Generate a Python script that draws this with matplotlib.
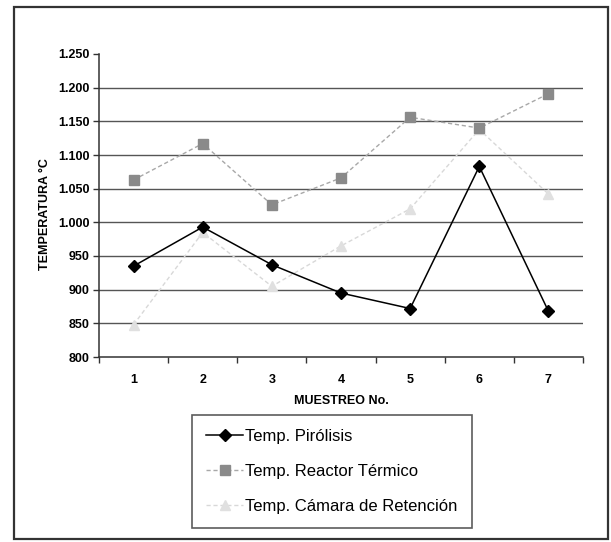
import numpy as np
import matplotlib
matplotlib.use("Agg")
import matplotlib.pyplot as plt
from matplotlib.patches import Rectangle
from matplotlib.ticker import FuncFormatter, FixedLocator

plt.rcParams['font.family'] = ['Liberation Sans', 'DejaVu Sans']

muestreo = [1, 2, 3, 4, 5, 6, 7]
pirolisis = [935, 993, 937, 895, 872, 1083, 868]
reactor = [1063, 1117, 1026, 1066, 1156, 1140, 1191]
camara = [848, 985, 905, 965, 1020, 1138, 1042]
labels = ['Temp. Pirólisis', 'Temp. Reactor Térmico', 'Temp. Cámara de Retención']

W, H = 611, 542
fig = plt.figure(figsize=(W / 100, H / 100), dpi=100)
fig.patch.set_facecolor('white')

# outer frame of the chart
fig.patches.append(Rectangle((14 / W, 1 - 539 / H), (608 - 14) / W, (539 - 7) / H,
                             transform=fig.transFigure, fill=False,
                             edgecolor='#333333', linewidth=1.6))

ax = fig.add_axes([99 / W, 1 - 357 / H, (583 - 99) / W, (357 - 54) / H])
x = np.array(muestreo)

for yv in range(850, 1201, 50):
    ax.axhline(yv, color='#555555', linewidth=1.0, zorder=1)

l1, = ax.plot(x, pirolisis, color='black', linewidth=1.1, marker='D',
              markersize=6, zorder=4)
l2, = ax.plot(x, reactor, color='#a8a8a8', linewidth=1.0, dashes=(3, 2),
              marker='s', markersize=7, markerfacecolor='#8a8a8a',
              markeredgecolor='#8a8a8a', zorder=3)
l3, = ax.plot(x, camara, color='#d8d8d8', linewidth=1.0, dashes=(3, 2),
              marker='^', markersize=7, markerfacecolor='#e0e0e0',
              markeredgecolor='#e0e0e0', zorder=2)

ax.set_xlim(0.5, 7.5)
ax.set_ylim(800, 1250)
ax.set_yticks(range(800, 1251, 50))
ax.yaxis.set_major_formatter(FuncFormatter(lambda v, p: f"{v:,.0f}".replace(",", ".")))
ax.set_xticks(x)
ax.set_xticklabels([str(m) for m in muestreo], fontweight='bold')
ax.xaxis.set_minor_locator(FixedLocator(np.arange(0.5, 8, 1)))
ax.tick_params(axis='x', which='major', length=0, labelsize=9, pad=12)
ax.tick_params(axis='x', which='minor', length=4, width=1, direction='out', color='#333333')
ax.tick_params(axis='y', length=4, width=1, direction='out', labelsize=9, pad=3,
               color='#333333')
for t in ax.get_yticklabels():
    t.set_fontweight('bold')

for s in ['top', 'right']:
    ax.spines[s].set_visible(False)
for s in ['left', 'bottom']:
    ax.spines[s].set_color('#333333')
    ax.spines[s].set_linewidth(1.1)

fig.text(45 / W, 1 - 214 / H, 'TEMPERATURA °C', rotation=90, ha='center',
         va='center', fontsize=9, fontweight='bold')
fig.text(341 / W, 1 - 401 / H, 'MUESTREO No.', ha='center', va='center',
         fontsize=9, fontweight='bold')

leg = fig.legend([l1, l2, l3], labels, loc='upper left',
                 bbox_to_anchor=(192 / W, 1 - 415 / H), bbox_transform=fig.transFigure,
                 borderaxespad=0, fancybox=False, frameon=True, edgecolor='#333333',
                 fontsize=12, labelspacing=1.2, handlelength=2.2, handletextpad=0.15,
                 borderpad=0.85)
leg.get_frame().set_linewidth(1.2)

fig.savefig('out.png', dpi=100, facecolor='white')
